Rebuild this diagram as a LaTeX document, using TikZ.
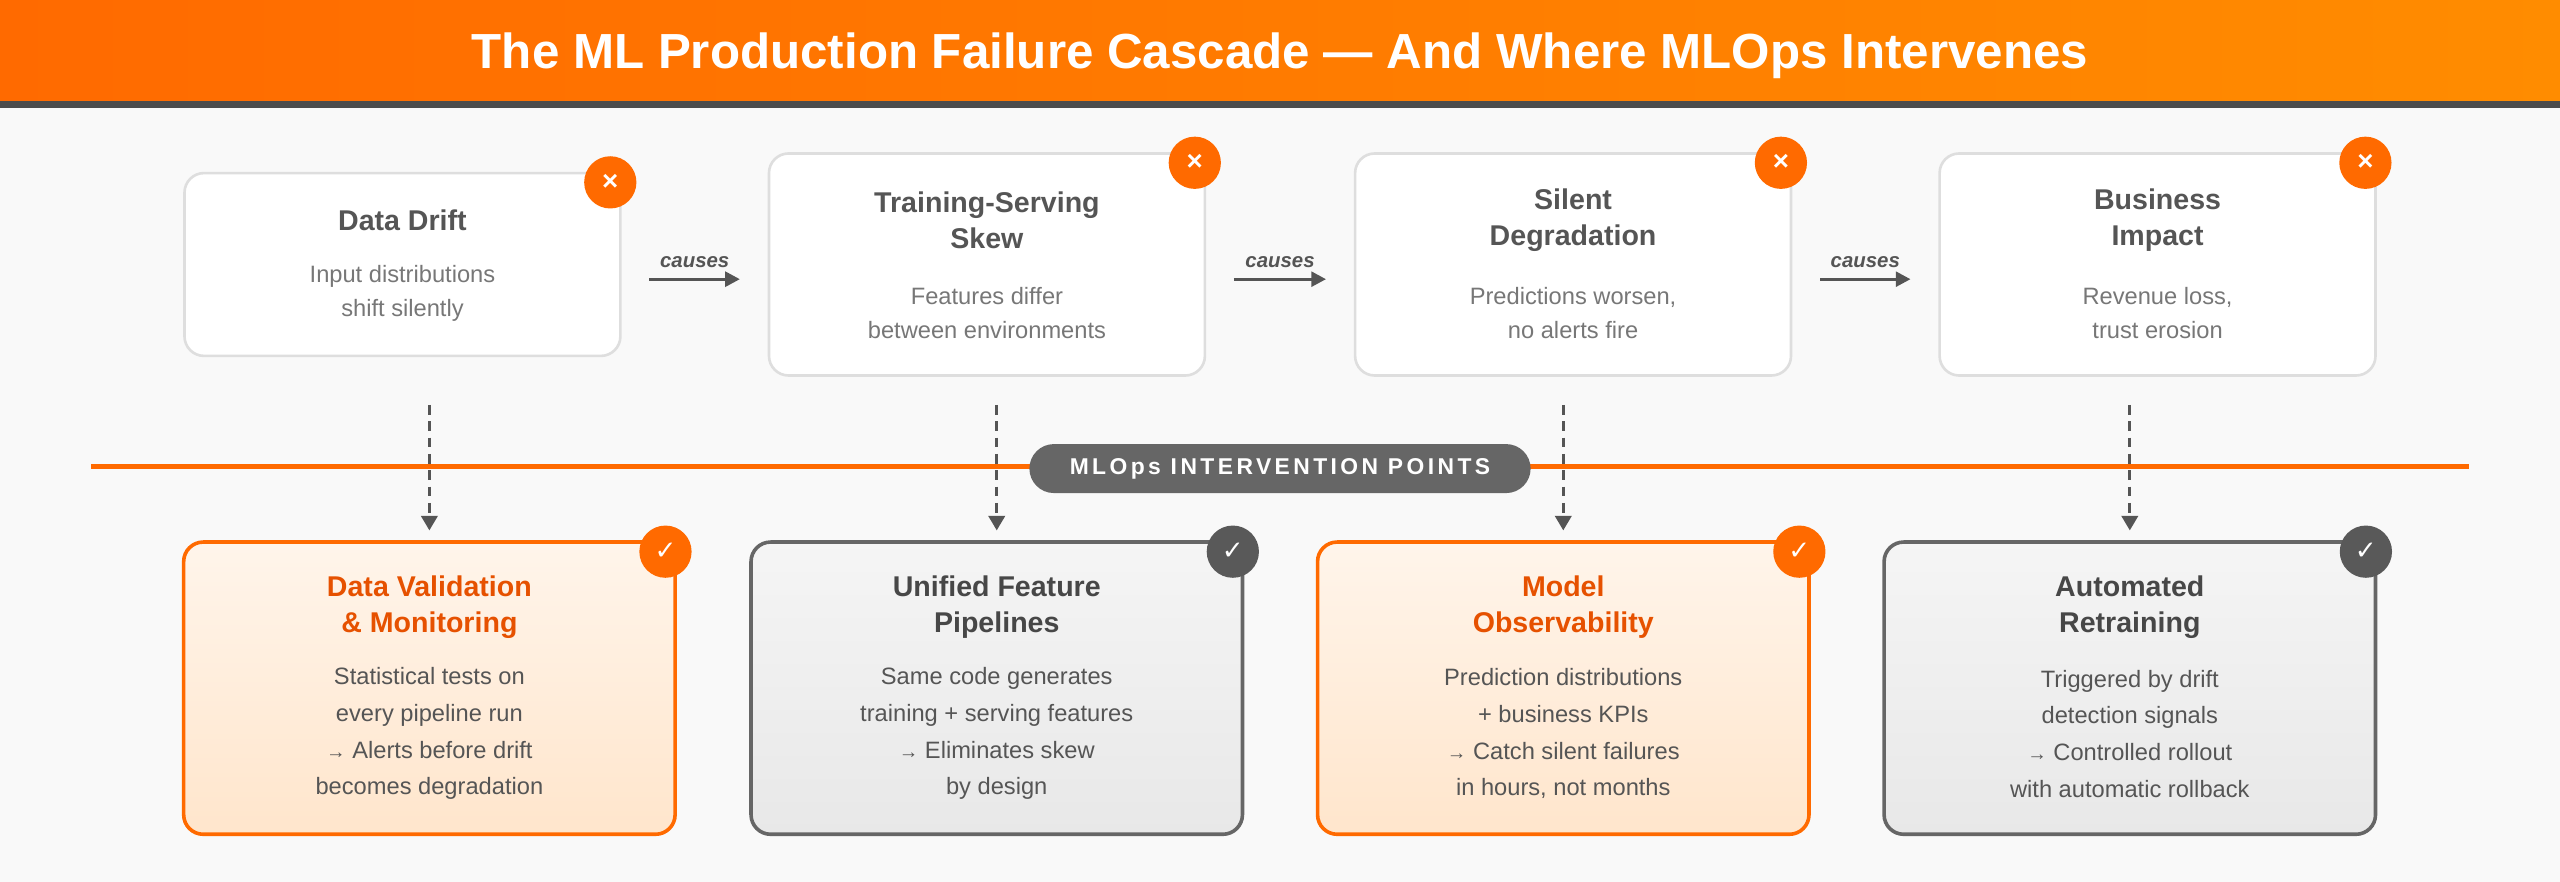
\documentclass[tikz,border=0pt]{standalone}
\usepackage{fontspec}
\setmainfont{Liberation Sans}
\newfontfamily\symfont{DejaVu Sans}
\usetikzlibrary{positioning,arrows.meta}
\definecolor{mlorange}{HTML}{FF6A00}
\definecolor{mlorangeb}{HTML}{FF8C00}
\definecolor{mldark}{HTML}{555555}
\definecolor{mltext}{HTML}{777777}
\definecolor{mlbody}{HTML}{555555}
\definecolor{mltitleo}{HTML}{E65100}
\newcommand{\smarrow}{{\fontsize{12}{12}\selectfont→}}
\begin{document}
\begin{tikzpicture}[x=1pt,y=-1pt,
    failbox/.style={rectangle,rounded corners=12pt,draw=black!13,line width=1.6pt,fill=white,minimum width=267pt,inner sep=0pt},
    fixo/.style={rectangle,rounded corners=12pt,draw=mlorange,line width=2.2pt,top color=orange!8,bottom color=orange!20,minimum width=301pt,minimum height=179pt,inner sep=0pt},
    fixg/.style={rectangle,rounded corners=12pt,draw=black!60,line width=2.2pt,top color=black!4,bottom color=black!9,minimum width=301pt,minimum height=179pt,inner sep=0pt},
    badge/.style={circle,minimum size=32pt,inner sep=0pt,text=white,font=\fontsize{17}{17}\bfseries},
    head/.style={font=\fontsize{17.5}{22}\selectfont\bfseries,text=mldark,align=center},
    desc/.style={font=\fontsize{14.5}{21}\selectfont,text=mltext,align=center},
    body/.style={font=\fontsize{14.5}{22.5}\selectfont,text=mlbody,align=center},
    cause/.style={-{Triangle[length=9pt,width=9pt]},line width=2pt,draw=mldark},
    drop/.style={-{Triangle[length=9pt,width=10pt]},line width=2pt,draw=mldark,dash pattern=on 6pt off 4pt}
    ]
\useasboundingbox (0,0) rectangle (1568,540);
\fill[black!2.5] (0,0) rectangle (1568,540);
% header
\shade[left color=mlorange,right color=mlorangeb] (0,0) rectangle (1568,62);
\fill[black!70] (0,62) rectangle (1568,66);
\node[text=white,font=\fontsize{30.2}{30.2}\selectfont\bfseries] (title) at (784,34) {The ML Production Failure Cascade — And Where MLOps Intervenes};
% failure boxes
\node[failbox,minimum height=112pt] (t1) at (246.5,162) {};
\node[failbox,minimum height=136pt] (t2) at (604.5,162) {};
\node[failbox,minimum height=136pt] (t3) at (963.5,162) {};
\node[failbox,minimum height=136pt] (t4) at (1321.5,162) {};
\node[head] (t1h) at ([yshift=-30]t1.north) {Data Drift};
\node[desc] (t1d) at ([yshift=-74.5]t1.north) {Input distributions\\shift silently};
\node[head] (t2h) at ([yshift=-41.5]t2.north) {Training-Serving\\Skew};
\node[desc] (t2d) at ([yshift=-98.5]t2.north) {Features differ\\between environments};
\node[head] (t3h) at ([yshift=-41.5]t3.north) {Silent\\Degradation};
\node[desc] (t3d) at ([yshift=-98.5]t3.north) {Predictions worsen,\\no alerts fire};
\node[head] (t4h) at ([yshift=-41.5]t4.north) {Business\\Impact};
\node[desc] (t4d) at ([yshift=-98.5]t4.north) {Revenue loss,\\trust erosion};
\foreach \n in {t1,t2,t3,t4}
  \node[badge,fill=mlorange] (\n x) at ([xshift=-7,yshift=-6.5]\n.north east) {×};
% causes arrows
\foreach \a/\b in {t1/t2,t2/t3,t3/t4}{
  \coordinate (\a o) at ([xshift=17]\a.east |- 0,171);
  \coordinate (\b i) at ([xshift=-17]\b.west |- 0,171);
  \draw[cause] (\a o) -- node[above=3pt,font=\fontsize{12.5}{12.5}\selectfont\bfseries\itshape,text=mldark] {causes} (\b i);
}
% intervention line
\draw[mlorange,line width=3pt] (56,286) -- (1512,286);
\node[rectangle,rounded corners=15pt,fill=black!60,minimum width=307pt,minimum height=30pt,text=white,font=\fontsize{14}{14}\selectfont\bfseries\addfontfeature{LetterSpace=15}] (pill) at (784,287) {MLOps INTERVENTION POINTS};
% fix boxes
\node[fixo] (b1) at (263,421.5) {};
\node[fixg] (b2) at (610.5,421.5) {};
\node[fixo] (b3) at (957.5,421.5) {};
\node[fixg] (b4) at (1304.5,421.5) {};
\node[head,text=mltitleo] (b1h) at ([yshift=-41]b1.north) {Data Validation\\\& Monitoring};
\node[body] (b1d) at ([yshift=-118.5]b1.north) {Statistical tests on\\every pipeline run\\\smarrow{} Alerts before drift\\becomes degradation};
\node[head,text=black!72] (b2h) at ([yshift=-41]b2.north) {Unified Feature\\Pipelines};
\node[body] (b2d) at ([yshift=-118.5]b2.north) {Same code generates\\training + serving features\\\smarrow{} Eliminates skew\\by design};
\node[head,text=mltitleo] (b3h) at ([yshift=-41]b3.north) {Model\\Observability};
\node[body] (b3d) at ([yshift=-118.5]b3.north) {Prediction distributions\\+ business KPIs\\\smarrow{} Catch silent failures\\in hours, not months};
\node[head,text=black!72] (b4h) at ([yshift=-41]b4.north) {Automated\\Retraining};
\node[body] (b4d) at ([yshift=-118.5]b4.north) {Triggered by drift\\detection signals\\\smarrow{} Controlled rollout\\with automatic rollback};
\node[badge,fill=mlorange,font=\symfont\fontsize{16}{16}\bfseries] (b1c) at ([xshift=-7,yshift=-7]b1.north east) {✓};
\node[badge,fill=black!65,font=\symfont\fontsize{16}{16}\bfseries] (b2c) at ([xshift=-7,yshift=-7]b2.north east) {✓};
\node[badge,fill=mlorange,font=\symfont\fontsize{16}{16}\bfseries] (b3c) at ([xshift=-7,yshift=-7]b3.north east) {✓};
\node[badge,fill=black!65,font=\symfont\fontsize{16}{16}\bfseries] (b4c) at ([xshift=-7,yshift=-7]b4.north east) {✓};
% dashed drops
\foreach \i in {1,2,3,4}{
  \coordinate (d\i) at (b\i.north |- 0,248);
  \draw[drop] (d\i) -- ([yshift=6]b\i.north);
}
\end{tikzpicture}
\end{document}
